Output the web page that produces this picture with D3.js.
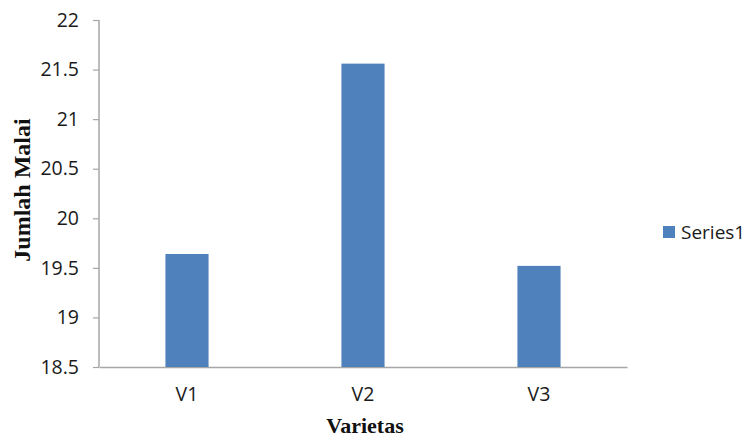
<!DOCTYPE html>
<html>
<head>
<meta charset="utf-8">
<script src="https://cdn.jsdelivr.net/npm/d3@7"></script>
<style>
  body { margin: 0; background: #fff; }
</style>
</head>
<body>
<div id="chart"></div>
<script>
var categories = ["V1", "V2", "V3"];
var values = [19.64, 21.56, 19.52];
var yTicks = [18.5, 19, 19.5, 20, 20.5, 21, 21.5, 22];
var seriesName = "Series1";

var width = 744;
var height = 439;

var margins = { left: 99, right: 117, top: 20, bottom: 72 };
var chartWidth = width - margins.left - margins.right;
var chartHeight = height - margins.top - margins.bottom;

var svg = d3
	.select("#chart")
	.append("svg")
	.attr("width", width)
	.attr("height", height);

var chartGroup = svg
	.append("g")
	.attr("transform", `translate(${margins.left},${margins.top})`);

var xscale = d3
	.scaleBand()
	.domain(categories)
	.range([0, chartWidth])
	.paddingInner(0.755)
	.paddingOuter(0.3775);

var yscale = d3.scaleLinear().domain([18.5, 22]).range([chartHeight, 0]);

var axisColor = "#a6a6a6";
var labelFont = "'Open Sans', sans-serif";

// y axis
var yaxis = chartGroup
	.append("g")
	.call(d3.axisLeft(yscale).tickValues(yTicks).tickSize(6).tickPadding(14).tickFormat(d3.format("")));
yaxis.select(".domain").attr("stroke", axisColor).attr("stroke-width", 1.5).attr("d", `M0,${chartHeight}V0`);
yaxis.selectAll(".tick line").attr("stroke", axisColor).attr("stroke-width", 1.2);
yaxis
	.selectAll(".tick text")
	.attr("font-family", labelFont)
	.attr("font-size", "19.5px")
	.attr("fill", "#1a1a1a");

// x axis
var xaxis = chartGroup
	.append("g")
	.attr("transform", `translate(0,${chartHeight})`)
	.call(d3.axisBottom(xscale).tickSize(0).tickPadding(20));
xaxis.select(".domain").attr("stroke", axisColor).attr("stroke-width", 1.5);
xaxis
	.selectAll(".tick text")
	.attr("font-family", labelFont)
	.attr("font-size", "19.5px")
	.attr("fill", "#1a1a1a");

// bars
chartGroup
	.selectAll("rect.bar")
	.data(values)
	.enter()
	.append("rect")
	.attr("class", "bar")
	.attr("x", (d, i) => xscale(categories[i]))
	.attr("y", (d) => yscale(d))
	.attr("width", xscale.bandwidth())
	.attr("height", (d) => chartHeight - yscale(d))
	.attr("fill", "#4f81bd");

// axis titles
svg
	.append("text")
	.text("Varietas")
	.attr("x", margins.left + chartWidth / 2 + 2)
	.attr("y", 433)
	.attr("text-anchor", "middle")
	.attr("font-family", "'Liberation Serif', serif")
	.attr("font-weight", "bold")
	.attr("font-size", "22px")
	.attr("fill", "#111");

svg
	.append("text")
	.text("Jumlah Malai")
	.attr("transform", "translate(30,190) rotate(-90)")
	.attr("text-anchor", "middle")
	.attr("font-family", "'Liberation Serif', serif")
	.attr("font-weight", "bold")
	.attr("font-size", "24px")
	.attr("fill", "#111");

// legend
var legend = svg.append("g").attr("transform", "translate(663,226)");
legend.append("rect").attr("width", 12).attr("height", 12).attr("fill", "#4f81bd");
legend
	.append("text")
	.text(seriesName)
	.attr("x", 18)
	.attr("y", 13)
	.attr("font-family", labelFont)
	.attr("font-size", "19px")
	.attr("fill", "#1a1a1a");
</script>
</body>
</html>
